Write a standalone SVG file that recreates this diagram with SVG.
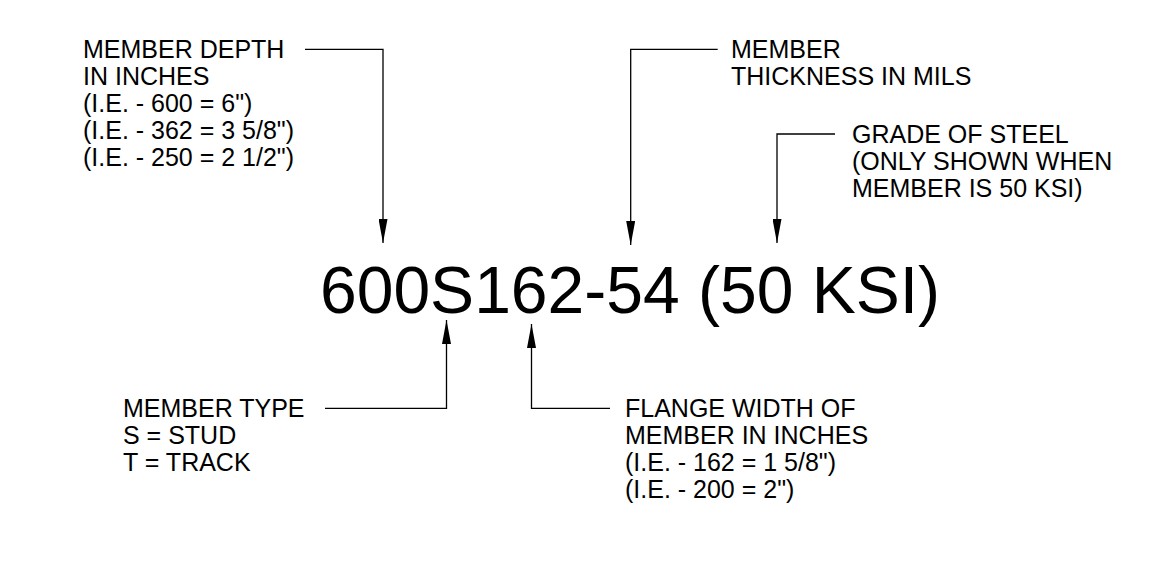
<svg xmlns="http://www.w3.org/2000/svg" width="1172" height="577" viewBox="0 0 1172 577">
<style>
.t{font-family:"Liberation Sans",Arial,sans-serif;font-size:25px;fill:#000}
.big{font-family:"Liberation Sans",Arial,sans-serif;font-size:66px;fill:#000}
.ld{fill:none;stroke:#000;stroke-width:1.3}
</style>
<defs>
<marker id="ah" viewBox="0 0 24 9" refX="24" refY="4.5" markerWidth="24" markerHeight="9" markerUnits="userSpaceOnUse" orient="auto">
<path d="M0,0 L24,4.5 L0,9 Z" fill="#000"/>
</marker>
</defs>
<rect width="1172" height="577" fill="#fff"/>
<g id="designation"><text class="big" x="320" y="313">600S162-54 (50 KSI)</text></g>
<g id="depth">
<text class="t" x="83" y="58">MEMBER DEPTH</text>
<text class="t" x="83" y="85">IN INCHES</text>
<text class="t" x="83" y="112">(I.E. - 600 = 6")</text>
<text class="t" x="83" y="139">(I.E. - 362 = 3 5/8")</text>
<text class="t" x="83" y="166">(I.E. - 250 = 2 1/2")</text>
</g>
<g id="thickness">
<text class="t" x="731" y="58">MEMBER</text>
<text class="t" x="731" y="85">THICKNESS IN MILS</text>
</g>
<g id="grade">
<text class="t" x="852" y="143">GRADE OF STEEL</text>
<text class="t" x="852" y="170">(ONLY SHOWN WHEN</text>
<text class="t" x="852" y="197">MEMBER IS 50 KSI)</text>
</g>
<g id="type">
<text class="t" x="123" y="417">MEMBER TYPE</text>
<text class="t" x="123" y="444">S = STUD</text>
<text class="t" x="123" y="471">T = TRACK</text>
</g>
<g id="flange">
<text class="t" x="625" y="417">FLANGE WIDTH OF</text>
<text class="t" x="625" y="444">MEMBER IN INCHES</text>
<text class="t" x="625" y="471">(I.E. - 162 = 1 5/8")</text>
<text class="t" x="625" y="498">(I.E. - 200 = 2")</text>
</g>
<g id="connectors">
<path class="ld" d="M305,49.3 H383 V243" marker-end="url(#ah)"/>
<path class="ld" d="M717.7,49.3 H630.7 V245" marker-end="url(#ah)"/>
<path class="ld" d="M835,134 H777 V243" marker-end="url(#ah)"/>
<path class="ld" d="M325,408.3 H446.5 V320" marker-end="url(#ah)"/>
<path class="ld" d="M610,408.3 H531.5 V324" marker-end="url(#ah)"/>
</g>
</svg>
